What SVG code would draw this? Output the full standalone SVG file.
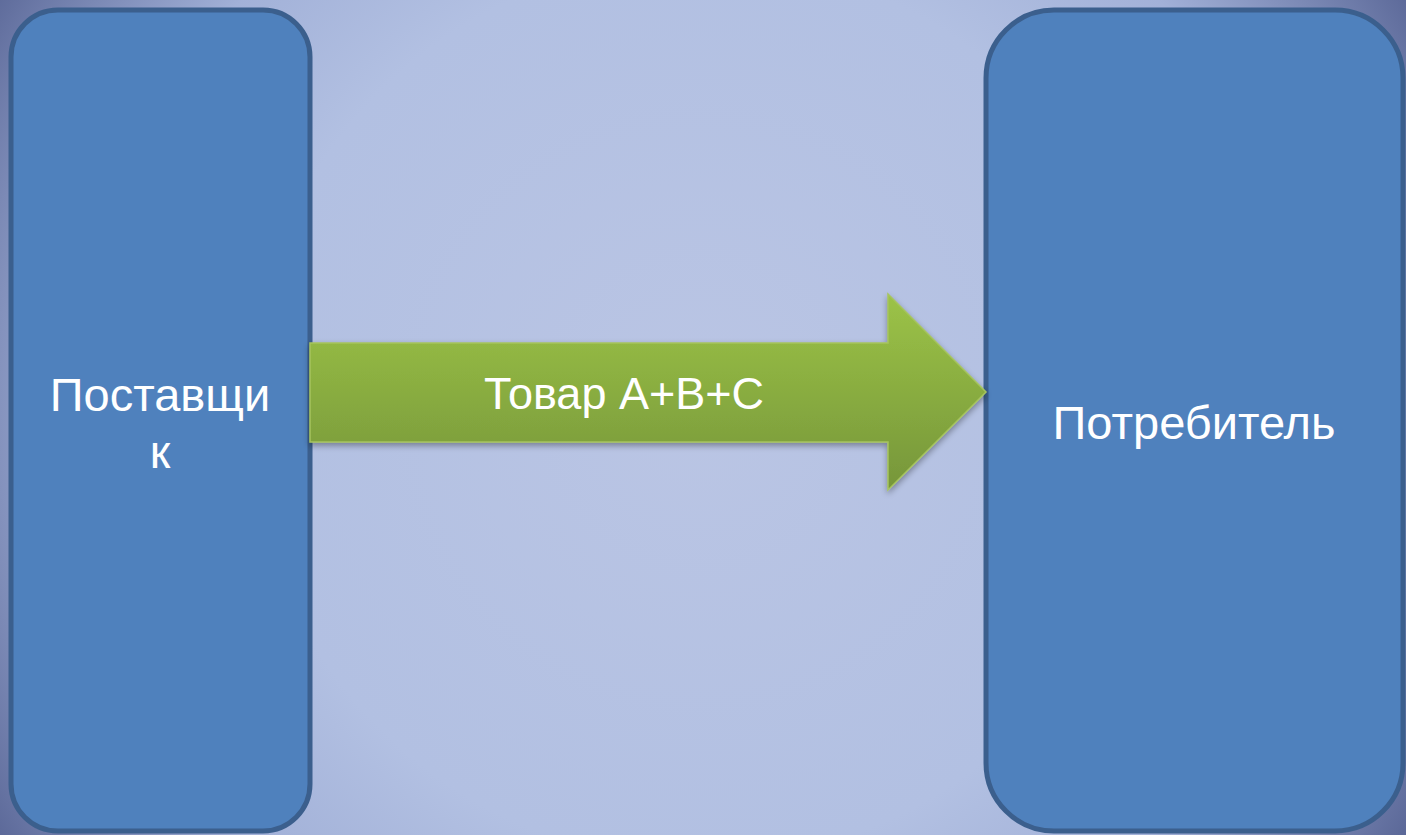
<svg xmlns="http://www.w3.org/2000/svg" width="1406" height="835" viewBox="0 0 1406 835">
<defs>
<radialGradient id="bg" cx="700" cy="410" r="820" gradientUnits="userSpaceOnUse">
<stop offset="0" stop-color="#bac5e4"/>
<stop offset="0.55" stop-color="#b2c0e2"/>
<stop offset="0.75" stop-color="#a2b1d8"/>
<stop offset="1" stop-color="#5c6999"/>
</radialGradient>
<linearGradient id="arr" x1="0" y1="0" x2="0" y2="1">
<stop offset="0" stop-color="#9cc347"/>
<stop offset="1" stop-color="#76963a"/>
</linearGradient>
<filter id="sh" x="-10%" y="-10%" width="120%" height="130%">
<feGaussianBlur in="SourceAlpha" stdDeviation="3"/>
<feOffset dy="3" result="b"/>
<feComponentTransfer><feFuncA type="linear" slope="0.35"/></feComponentTransfer>
<feMerge><feMergeNode/><feMergeNode in="SourceGraphic"/></feMerge>
</filter>
</defs>
<style>
.box{fill:#4f81bd;stroke:#3b5f8d;stroke-width:5}
.lbl{font-family:"Liberation Sans",Arial,sans-serif;fill:#ffffff;text-anchor:middle}
</style>
<rect width="1406" height="835" fill="url(#bg)"/>
<g id="supplier">
<rect class="box" x="11" y="10" width="299" height="821" rx="47" ry="47"/>
<text class="lbl" x="160" y="411" font-size="47">Поставщи</text>
<text class="lbl" x="160" y="468" font-size="47">к</text>
</g>
<g id="consumer">
<rect class="box" x="986" y="10" width="417" height="821" rx="68" ry="68"/>
<text class="lbl" x="1194" y="439" font-size="47">Потребитель</text>
</g>
<g id="connectors">
<g id="arrow">
<path d="M310,343 L888,343 L888,294 L986,392 L888,490 L888,442 L310,442 Z" fill="url(#arr)" stroke="#a6c45e" stroke-width="1.5" filter="url(#sh)"/>
<text class="lbl" x="624" y="409" font-size="45">Товар A+B+C</text>
</g>
</g>
</svg>
